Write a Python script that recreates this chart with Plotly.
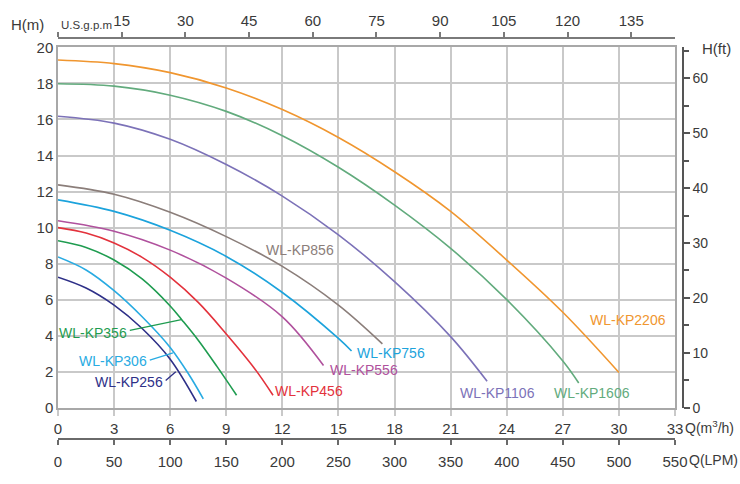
import plotly.graph_objects as go

# ---------------- data ----------------
models = ["WL-KP2206", "WL-KP1606", "WL-KP1106", "WL-KP856", "WL-KP756",
          "WL-KP556", "WL-KP456", "WL-KP356", "WL-KP306", "WL-KP256"]

q_kp2206 = [0, 3, 6, 9, 12, 15, 18, 21, 24, 27, 30]
h_kp2206 = [19.3, 19.1, 18.6, 17.75, 16.55, 15.0, 13.1, 10.9, 8.2, 5.3, 1.96]

q_kp1606 = [0, 3, 6, 9, 12, 15, 18, 21, 24, 27, 27.85]
h_kp1606 = [17.98, 17.85, 17.35, 16.45, 15.1, 13.35, 11.25, 8.85, 6.0, 2.6, 1.38]

q_kp1106 = [0, 3, 6, 9, 12, 15, 18, 21, 22.95]
h_kp1106 = [16.18, 15.8, 14.9, 13.5, 11.75, 9.6, 7.0, 3.95, 1.47]

q_kp856 = [0, 3, 6, 9, 12, 15, 17.35]
h_kp856 = [12.37, 11.85, 10.85, 9.5, 7.85, 5.7, 3.55]

q_kp756 = [0, 3, 6, 9, 12, 15, 15.7]
h_kp756 = [11.54, 10.9, 9.85, 8.4, 6.4, 3.85, 3.15]

q_kp556 = [0, 3, 6, 9, 12, 14.2]
h_kp556 = [10.38, 9.8, 8.75, 7.2, 5.05, 2.35]

q_kp456 = [0, 1.5, 3, 4.5, 6, 7.5, 9, 10.5, 11.5]
h_kp456 = [10.0, 9.7, 9.15, 8.35, 7.25, 5.85, 4.1, 2.2, 0.7]

q_kp356 = [0, 1.5, 3, 4.5, 6, 6.65, 7.5, 8.5, 9.55]
h_kp356 = [9.27, 8.9, 8.2, 7.15, 5.65, 4.85, 3.75, 2.3, 0.7]

q_kp306 = [0, 1.5, 3, 4.5, 6, 7, 7.77]
h_kp306 = [8.37, 7.65, 6.5, 5.05, 3.35, 1.85, 0.5]

q_kp256 = [0, 1.5, 3, 4.5, 6, 7.4]
h_kp256 = [7.25, 6.65, 5.7, 4.4, 2.7, 0.35]

q_ticks = [0, 3, 6, 9, 12, 15, 18, 21, 24, 27, 30, 33]
h_ticks = [0, 2, 4, 6, 8, 10, 12, 14, 16, 18, 20]
gpm_ticks = [0, 15, 30, 45, 60, 75, 90, 105, 120, 135]
gpm_text = ["", "15", "30", "45", "60", "75", "90", "105", "120", "135"]
lpm_ticks = [0, 50, 100, 150, 200, 250, 300, 350, 400, 450, 500, 550]
ft_ticks = [0, 10, 20, 30, 40, 50, 60]

Q_MAX = 33
H_MAX = 20
M3H_TO_GPM = 4.40287
M3H_TO_LPM = 1000 / 60
M_TO_FT = 3.28084

# ---------------- styles ----------------
colors = ["#f0962f", "#62ab7d", "#7c72b8", "#8b7e7a", "#1ca3dc",
          "#b0519d", "#e3323c", "#1f9c50", "#29abe2", "#2e3088"]
q_series = [q_kp2206, q_kp1606, q_kp1106, q_kp856, q_kp756,
            q_kp556, q_kp456, q_kp356, q_kp306, q_kp256]
h_series = [h_kp2206, h_kp1606, h_kp1106, h_kp856, h_kp756,
            h_kp556, h_kp456, h_kp356, h_kp306, h_kp256]

# label placement (data coords) and anchor
label_pos = {
    "WL-KP2206": (28.34, 4.86, "left"),
    "WL-KP1606": (26.41, 0.8, "left"),
    "WL-KP1106": (21.39, 0.8, "left"),
    "WL-KP856": (11.0, 8.76, "left"),
    "WL-KP756": (15.87, 3.05, "left"),
    "WL-KP556": (14.43, 2.12, "left"),
    "WL-KP456": (11.49, 0.91, "left"),
    "WL-KP356": (3.78, 4.15, "right"),
    "WL-KP306": (4.88, 2.6, "right"),
    "WL-KP256": (5.72, 1.42, "right"),
}
# leader lines (from label to curve)
leaders = {
    "WL-KP356": ([3.84, 6.6], [4.3, 4.9]),
    "WL-KP306": ([4.91, 6.15], [2.65, 3.05]),
    "WL-KP256": ([5.76, 6.3], [1.51, 2.0]),
}

FONT = "Liberation Sans, Arial, sans-serif"
TXT = "#3a3a3a"
GRID = "#c9c9c9"

W, H = 740, 484
ML, MR, MT, MB = 58, 57, 34, 45
PW, PH = W - ML - MR, H - MT - MB
plot_top_px, plot_bot_px, plot_right_px = 43.5, 407.5, 675


def fy(py):
    return (H - MB - py) / PH


def fx(px):
    return (px - ML) / PW


fig = go.Figure()

for name, qs, hs, c in zip(models, q_series, h_series, colors):
    fig.add_trace(go.Scatter(x=qs, y=hs, mode="lines", name=name,
                             line=dict(color=c, width=1.6, shape="spline", smoothing=1.0),
                             hoverinfo="skip", showlegend=False))

for name, c in zip(models, colors):
    if name in leaders:
        lx, ly = leaders[name]
        fig.add_trace(go.Scatter(x=lx, y=ly, mode="lines", line=dict(color=c, width=1.3),
                                 hoverinfo="skip", showlegend=False))
    x0, y0, anc = label_pos[name]
    fig.add_annotation(x=x0, y=y0, xref="x", yref="y", text=name, showarrow=False,
                       xanchor=anc, yanchor="middle",
                       font=dict(family=FONT, size=14, color=c))

# dummy traces so secondary axes are drawn
fig.add_trace(go.Scatter(x=[0, Q_MAX * M3H_TO_GPM], y=[0, 0], xaxis="x2", yaxis="y",
                         mode="none", hoverinfo="skip", showlegend=False))
fig.add_trace(go.Scatter(x=[0, Q_MAX * M3H_TO_LPM], y=[0, 0], xaxis="x3", yaxis="y",
                         mode="none", hoverinfo="skip", showlegend=False))
fig.add_trace(go.Scatter(x=[0, 0], y=[0, H_MAX * M_TO_FT], xaxis="x", yaxis="y2",
                         mode="none", hoverinfo="skip", showlegend=False))

ydom = [fy(plot_bot_px), fy(plot_top_px)]
xdom = [0, fx(plot_right_px)]

fig.update_layout(
    width=W, height=H,
    margin=dict(l=ML, r=MR, t=MT, b=MB),
    paper_bgcolor="white", plot_bgcolor="white",
    font=dict(family=FONT, size=15, color=TXT),
    xaxis=dict(domain=xdom, range=[0, Q_MAX], tickvals=q_ticks, showgrid=True,
               gridcolor=GRID, gridwidth=1.5, zeroline=False, showline=True,
               linecolor="#a8a8a8", linewidth=1.5, mirror=True,
               ticks="outside", ticklen=6, tickcolor=GRID, tickwidth=1.5,
               tickfont=dict(size=15, color=TXT), anchor="y"),
    yaxis=dict(domain=ydom, range=[0, H_MAX], tickvals=h_ticks, showgrid=True,
               gridcolor=GRID, gridwidth=1.5, zeroline=False, showline=True,
               linecolor="#a8a8a8", linewidth=1.5, mirror=True, ticks="",
               tickfont=dict(size=15, color=TXT), anchor="x"),
    xaxis2=dict(overlaying="x", side="top", anchor="free", position=1, domain=xdom,
                range=[0, Q_MAX * M3H_TO_GPM], tickvals=gpm_ticks, ticktext=gpm_text,
                showgrid=False, zeroline=False, showline=True, linecolor="#7a7a7a",
                linewidth=1.5, ticks="outside", ticklen=5, tickcolor="#7a7a7a",
                tickwidth=1.5, tickfont=dict(size=15, color=TXT)),
    xaxis3=dict(overlaying="x", side="bottom", anchor="free", position=0, domain=xdom,
                range=[0, Q_MAX * M3H_TO_LPM], tickvals=lpm_ticks,
                showgrid=False, zeroline=False, showline=True, linecolor="#6a6a6a",
                linewidth=1.5, ticks="outside", ticklen=5, tickcolor="#6a6a6a",
                tickwidth=1.5, ticklabelstandoff=4, tickfont=dict(size=15, color=TXT)),
    yaxis2=dict(overlaying="y", side="right", anchor="free", position=1, domain=ydom,
                range=[0, H_MAX * M_TO_FT], tickvals=ft_ticks,
                showgrid=False, zeroline=False, showline=True, linecolor="#555555",
                linewidth=1.5, ticks="outside", ticklen=6, tickcolor="#555555",
                tickwidth=1.5, tickfont=dict(size=14, color=TXT),
                minor=dict(dtick=5, tick0=5, ticks="outside", ticklen=5,
                           tickcolor="#555555", tickwidth=1.5, showgrid=False)),
)

axis_titles = [
    ("H(m)", 27, 20, "center", 15),
    ("U.S.g.p.m", 86, 21, "center", 11.5),
    ("H(ft)", 716, 45, "center", 15),
    ("Q(m<sup>3</sup>/h)", 709, 427, "center", 14),
    ("Q(LPM)", 713, 460, "center", 14),
]
for t, px, py, anc, sz in axis_titles:
    fig.add_annotation(x=fx(px), y=fy(py), xref="paper", yref="paper", text=t,
                       showarrow=False, xanchor=anc, yanchor="middle",
                       font=dict(family=FONT, size=sz, color=TXT))

fig.write_html("out.html", config={"displayModeBar": False},
               post_script="document.body.style.margin='0';")
